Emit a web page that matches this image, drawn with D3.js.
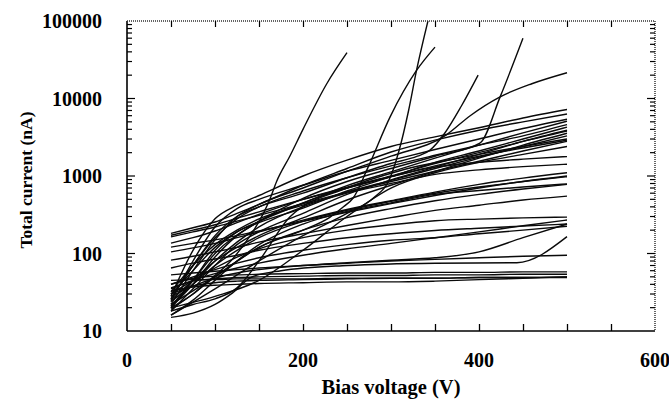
<!DOCTYPE html>
<html><head><meta charset="utf-8">
<script src="https://cdn.jsdelivr.net/npm/d3@7"></script>
<style>
html,body{margin:0;padding:0;background:#fff;}
svg{display:block;}
text{font-family:"Liberation Serif","Times New Roman",serif;font-weight:bold;fill:#000;}
</style></head>
<body>
<svg id="chart" width="669" height="403"></svg>
<script>
// ---- data ----
const voltages = [50, 75, 100, 125, 150, 200, 250, 300, 350, 400, 450, 500];

// runs that end high (upper bundle), values in nA at each voltage
const upperRuns = [
  [28, 110, 280, 420, 560, 1000, 1600, 2400, 3200, 4200, 5600, 7200],
  [182, 215, 255, 330, 430, 760, 1250, 2040, 2900, 3900, 5000, 6300],
  [24, 80, 220, 380, 500, 760, 1150, 1590, 2200, 3000, 4100, 5400],
  [20, 45, 110, 190, 260, 445, 750, 1130, 1700, 2500, 3600, 5100],
  [26, 70, 160, 280, 400, 640, 950, 1350, 1850, 2500, 3300, 4600],
  [30, 60, 120, 190, 250, 385, 640, 980, 1500, 2100, 3000, 4270],
  [18, 35, 70, 130, 190, 330, 580, 890, 1300, 1900, 2800, 3900],
  [21, 40, 90, 170, 260, 450, 700, 1000, 1450, 2000, 2800, 3800],
  [25, 45, 80, 120, 170, 288, 490, 760, 1150, 1700, 2500, 3560],
  [32, 70, 130, 200, 280, 420, 620, 880, 1250, 1750, 2400, 3300],
  [172, 200, 235, 285, 345, 500, 700, 980, 1350, 1800, 2300, 2900],
  [164, 190, 220, 262, 310, 440, 620, 850, 1150, 1550, 2100, 2800]
];

// runs that end in the middle band
const middleRuns = [
  [136, 160, 195, 250, 320, 500, 720, 980, 1300, 1500, 1650, 1780],
  [20, 40, 80, 140, 220, 400, 600, 800, 1050, 1200, 1320, 1420],
  [105, 118, 135, 160, 190, 270, 370, 480, 620, 780, 940, 1100],
  [121, 135, 150, 170, 195, 260, 340, 440, 560, 700, 850, 1000],
  [24, 40, 70, 110, 160, 260, 360, 470, 600, 720, 850, 980],
  [16, 25, 45, 80, 130, 240, 350, 450, 580, 650, 720, 790],
  [19, 30, 50, 80, 120, 200, 290, 380, 480, 580, 680, 780],
  [82, 92, 105, 120, 140, 180, 230, 290, 360, 420, 490, 550],
  [30, 45, 65, 90, 115, 160, 200, 235, 265, 278, 288, 295],
  [35, 45, 55, 65, 75, 95, 115, 135, 160, 190, 228, 270],
  [65, 75, 85, 95, 110, 135, 160, 180, 198, 212, 226, 240],
  [40, 50, 62, 75, 88, 110, 130, 148, 160, 180, 200, 225]
];

// runs that stay low
const lowerRuns = [
  [28, 38, 48, 56, 62, 70, 76, 82, 88, 105, 160, 240],
  [53, 56, 59, 62, 65, 70, 75, 80, 84, 88, 92, 95],
  [40, 48, 51, 53, 54, 55, 56, 56, 57, 57, 58, 58],
  [36, 44, 47, 49, 50, 51, 52, 52, 53, 53, 54, 54],
  [30, 38, 42, 44, 45, 46, 47, 48, 48, 49, 49, 50],
  [45, 46, 46, 47, 47, 47, 48, 48, 48, 49, 49, 49],
  [33, 37, 39, 40, 41, 42, 43, 43, 44, 46, 48, 50]
];

// runs with their own voltage points (breakdowns and late risers): [V, nA]
const breakdownRuns = [
  [[50, 20], [75, 30], [90, 42], [120, 85], [140, 170], [155, 330], [162, 490], [170, 850], [185, 1800], [200, 4000], [227, 15500], [250, 39000]],
  [[50, 16], [100, 35], [150, 80], [200, 170], [250, 330], [280, 520], [299, 950], [309, 2100], [320, 7000], [329, 23000], [342, 100000]],
  [[50, 22], [100, 50], [150, 120], [200, 200], [230, 290], [246, 400], [257, 520], [274, 1300], [299, 5800], [329, 23000], [350, 46000]],
  [[50, 26], [75, 70], [100, 170], [125, 300], [150, 400], [200, 600], [250, 950], [300, 1450], [330, 1800], [344, 2140], [361, 3560], [380, 8000], [399, 20000]],
  [[50, 21], [75, 45], [100, 100], [150, 260], [200, 515], [250, 850], [300, 1250], [350, 1800], [401, 2650], [424, 10500], [450, 60000]],
  [[50, 22], [75, 60], [100, 150], [125, 300], [150, 430], [200, 700], [250, 1150], [300, 1800], [363, 3400], [390, 6000], [424, 10500], [460, 15500], [500, 21500]],
  [[50, 15], [75, 17], [100, 22], [120, 31], [142, 50], [175, 60], [250, 70], [350, 75], [443, 76], [500, 165]],
  [[50, 18], [75, 22], [100, 26], [125, 36], [150, 80], [185, 295], [250, 700], [310, 1170], [400, 1900], [500, 3000]],
  [[50, 20], [100, 28], [150, 45], [200, 110], [250, 300], [300, 700], [350, 1100], [400, 1500], [450, 1900], [500, 2400]]
];

const xTickValues = [0, 200, 400, 600];
const yTickValues = [10, 100, 1000, 10000, 100000];
const xTitle = "Bias voltage (V)";
const yTitle = "Total current (nA)";

// ---- drawing ----
const svg = d3.select("#chart");
const L = 127, R = 655, T = 21, B = 331;
const x = d3.scaleLinear().domain([0, 600]).range([L, R]);
const y = d3.scaleLog().domain([10, 100000]).range([B, T]);

svg.append("defs").append("clipPath").attr("id", "plotclip")
  .append("rect").attr("x", L).attr("y", T).attr("width", R - L).attr("height", B - T);

const allRuns = []
  .concat(upperRuns, middleRuns, lowerRuns).map(vals => vals.map((v, i) => [voltages[i], v]))
  .concat(breakdownRuns);

const line = d3.line().x(d => x(d[0])).y(d => y(d[1])).curve(d3.curveMonotoneX);

svg.append("g").attr("clip-path", "url(#plotclip)")
  .selectAll("path").data(allRuns).join("path")
  .attr("d", line)
  .attr("fill", "none")
  .attr("stroke", "#0a0a0a")
  .attr("stroke-width", 1.4);

// frame: left & bottom solid, top & right dotted
svg.append("line").attr("x1", L).attr("x2", L).attr("y1", T).attr("y2", B)
  .attr("stroke", "#000").attr("stroke-width", 1.6);
svg.append("line").attr("x1", L).attr("x2", R).attr("y1", B).attr("y2", B)
  .attr("stroke", "#000").attr("stroke-width", 1.6);
svg.append("line").attr("x1", L).attr("x2", R).attr("y1", T).attr("y2", T)
  .attr("stroke", "#333").attr("stroke-width", 1.5).attr("stroke-dasharray", "1,1");
svg.append("line").attr("x1", R).attr("x2", R).attr("y1", T).attr("y2", B)
  .attr("stroke", "#333").attr("stroke-width", 1.5).attr("stroke-dasharray", "1,1");

// axes with inward ticks
const xMinor = d3.range(50, 600, 50);
const yAll = y.ticks(); // 10,20,...,100000 (log minor ticks)

svg.append("g").attr("transform", `translate(0,${B})`)
  .call(d3.axisTop(x).tickValues(xMinor).tickSize(7).tickFormat(""))
  .call(g => g.select(".domain").remove())
  .call(g => g.selectAll("line").attr("stroke", "#000").attr("stroke-width", 1.3));
svg.append("g").attr("transform", `translate(0,${T})`)
  .call(d3.axisBottom(x).tickValues(xMinor).tickSize(6).tickFormat(""))
  .call(g => g.select(".domain").remove())
  .call(g => g.selectAll("line").attr("stroke", "#000").attr("stroke-width", 1.2));

function yTickSize(v) {
  const m = v / Math.pow(10, Math.floor(Math.log10(v) + 1e-9));
  return Math.abs(m - 1) < 1e-6 ? 8 : 5;
}
[[L, 1], [R, -1]].forEach(([x0, dir]) => {
  svg.append("g").selectAll("line").data(yAll.filter(v => v > 10 && v < 100000)).join("line")
    .attr("x1", x0).attr("x2", d => x0 + dir * yTickSize(d))
    .attr("y1", d => y(d)).attr("y2", d => y(d))
    .attr("stroke", "#000").attr("stroke-width", 1.2);
});

// tick labels
svg.append("g").selectAll("text").data(yTickValues).join("text")
  .attr("x", 102).attr("y", d => y(d)).attr("dy", "0.35em")
  .attr("text-anchor", "end").attr("font-size", 20)
  .text(d => d3.format("d")(d));

svg.append("g").selectAll("text").data(xTickValues).join("text")
  .attr("x", d => x(d)).attr("y", 367)
  .attr("text-anchor", "middle").attr("font-size", 20)
  .text(d => d);

// axis titles
svg.append("text").attr("x", (L + R) / 2).attr("y", 394)
  .attr("text-anchor", "middle").attr("font-size", 20.5).text(xTitle);
svg.append("text").attr("transform", "translate(32,180) rotate(-90)")
  .attr("text-anchor", "middle").attr("font-size", 17.5).text(yTitle);
</script>
</body></html>
